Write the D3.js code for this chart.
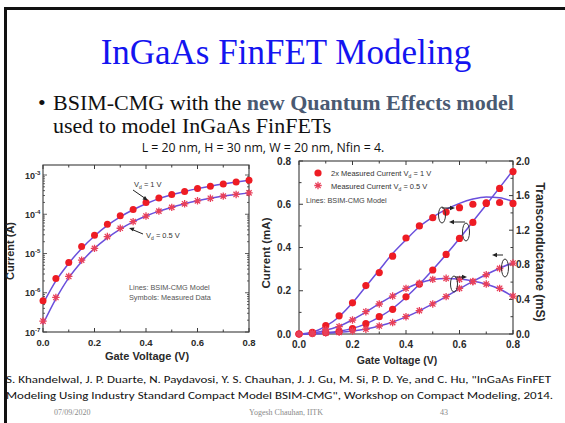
<!DOCTYPE html>
<html><head><meta charset="utf-8">
<script src="https://cdn.jsdelivr.net/npm/d3@7"></script>
<style>body{margin:0;background:#fff}svg{display:block}</style>
</head><body>
<script>
// Gate voltage sweep (V)
const gateV = [0.00,0.05,0.10,0.15,0.20,0.25,0.30,0.35,0.40,0.45,0.50,0.55,0.60,0.65,0.70,0.75,0.80];

// Id-Vg on log scale (A)
const logMeas1V  = [6.3e-7,2.3e-6,5.9e-6,1.5e-5,2.9e-5,5.6e-5,9.2e-5,1.33e-4,2.0e-4,2.6e-4,3.2e-4,3.8e-4,4.5e-4,5.2e-4,5.9e-4,6.6e-4,7.4e-4];
const logMeas05V = [1.9e-7,7.6e-7,2.6e-6,6.8e-6,1.35e-5,2.7e-5,4.4e-5,6.5e-5,9.0e-5,1.2e-4,1.5e-4,1.85e-4,2.2e-4,2.55e-4,2.9e-4,3.2e-4,3.5e-4];
const logModel1V  = [5.2e-7,2.0e-6,5.6e-6,1.35e-5,2.8e-5,5.2e-5,8.6e-5,1.3e-4,1.85e-4,2.5e-4,3.15e-4,3.8e-4,4.5e-4,5.2e-4,5.9e-4,6.6e-4,7.3e-4];
const logModel05V = [1.6e-7,7.0e-7,2.4e-6,6.2e-6,1.35e-5,2.5e-5,4.2e-5,6.4e-5,9.0e-5,1.2e-4,1.5e-4,1.85e-4,2.2e-4,2.55e-4,2.9e-4,3.2e-4,3.5e-4];
const logTicks = [1e-7,1e-6,1e-5,1e-4,1e-3];
const logTickExp = ["-7","-6","-5","-4","-3"];

// Linear Id-Vg (mA) and gm-Vg (mS)
const linCur1V   = [0.000,0.003,0.007,0.012,0.025,0.048,0.080,0.114,0.172,0.231,0.296,0.368,0.442,0.516,0.607,0.673,0.751];
const linCur05V  = [0.000,0.002,0.004,0.008,0.014,0.022,0.037,0.053,0.080,0.108,0.139,0.173,0.211,0.243,0.274,0.303,0.328];
const gm1V       = [0.00,0.02,0.096,0.21,0.36,0.56,0.71,0.90,1.11,1.25,1.345,1.41,1.46,1.50,1.51,1.52,1.51];
const gm05V      = [0.00,0.01,0.05,0.085,0.162,0.258,0.347,0.439,0.528,0.586,0.632,0.644,0.632,0.605,0.578,0.528,0.439];
const modelCur1V  = [0.000,0.002,0.006,0.013,0.026,0.047,0.078,0.118,0.170,0.230,0.297,0.368,0.442,0.520,0.598,0.677,0.757];
const modelCur05V = [0.000,0.001,0.004,0.008,0.014,0.023,0.037,0.055,0.079,0.107,0.139,0.173,0.209,0.243,0.275,0.304,0.330];
const modelGm1V   = [0.00,0.02,0.09,0.20,0.36,0.55,0.74,0.93,1.09,1.24,1.35,1.44,1.51,1.56,1.585,1.575,1.53];
const modelGm05V  = [0.00,0.01,0.045,0.09,0.165,0.255,0.35,0.44,0.525,0.59,0.63,0.643,0.635,0.612,0.575,0.52,0.43];

const xTicks = [0,0.2,0.4,0.6,0.8];
const curTicks = [0,0.2,0.4,0.6,0.8];
const gmTicks = [0,0.4,0.8,1.2,1.6,2.0];

const W = 565, H = 423;
const svg = d3.select("body").append("svg").attr("width", W).attr("height", H);
svg.append("rect").attr("width", W).attr("height", H).attr("fill", "#fff");

// slide frame
svg.append("rect").attr("x", 4).attr("y", 7).attr("width", W - 4).attr("height", 3).attr("fill", "#111");
svg.append("rect").attr("x", 4).attr("y", 7).attr("width", 3).attr("height", H - 7).attr("fill", "#111");

// title
svg.append("text").attr("x", 286).attr("y", 64).attr("text-anchor", "middle")
  .attr("font-family", "Liberation Serif, Times New Roman, serif").attr("font-size", 35)
  .attr("fill", "#1414f0").text("InGaAs FinFET Modeling");

// bullet
const serif = "Liberation Serif, Times New Roman, serif";
svg.append("text").attr("x", 38).attr("y", 110).attr("font-family", serif).attr("font-size", 22).attr("fill", "#111").text("•");
const b1 = svg.append("text").attr("x", 53).attr("y", 110).attr("font-family", serif).attr("font-size", 22).attr("fill", "#111");
b1.append("tspan").text("BSIM-CMG with the ");
b1.append("tspan").attr("font-weight", "bold").attr("fill", "#4a5a72").text("new Quantum Effects model");
svg.append("text").attr("x", 53).attr("y", 133).attr("font-family", serif).attr("font-size", 22).attr("fill", "#111").text("used to model InGaAs FinFETs");

const sans = "Liberation Sans, Arial, sans-serif";
svg.append("text").attr("x", 263).attr("y", 152).attr("text-anchor", "middle")
  .attr("font-family", "Open Sans, sans-serif").attr("font-size", 12.3).attr("fill", "#111")
  .text("L = 20 nm, H = 30 nm, W = 20 nm, Nfin = 4.");

const axisCol = "#3a3a3a", textCol = "#2a2a2a", lineCol = "#6a4fdc", dotCol = "#ee1c24", starCol = "#e8405a";

function star(g, x, y, s) {
  const a = s * 0.72;
  g.append("path").attr("transform", `translate(${x},${y})`)
    .attr("d", `M${-s},0H${s}M0,${-s}V${s}M${-a},${-a}L${a},${a}M${-a},${a}L${a},${-a}`)
    .attr("stroke", starCol).attr("stroke-width", 1.3).attr("fill", "none");
}

// ---------- left chart: log Id-Vg ----------
const L = { x0: 43, x1: 249, y0: 332, y1: 165 };
const lx = d3.scaleLinear([0, 0.8], [L.x0, L.x1]);
const ly = d3.scaleLog([1e-7, Math.pow(10, -2.745)], [L.y0, L.y1]);
const gl = svg.append("g");
gl.append("rect").attr("x", L.x0).attr("y", L.y1).attr("width", L.x1 - L.x0).attr("height", L.y0 - L.y1)
  .attr("fill", "none").attr("stroke", axisCol).attr("stroke-width", 1.1);
// x ticks (bottom, top)
d3.range(0, 0.8001, 0.1).forEach((v, i) => {
  const len = i % 2 === 0 ? 4 : 2.5;
  gl.append("line").attr("x1", lx(v)).attr("x2", lx(v)).attr("y1", L.y0).attr("y2", L.y0 - len).attr("stroke", axisCol);
  gl.append("line").attr("x1", lx(v)).attr("x2", lx(v)).attr("y1", L.y1).attr("y2", L.y1 + len).attr("stroke", axisCol);
});
// log ticks (left, right)
ly.ticks().forEach(t => {
  const major = Math.abs(Math.log10(t) - Math.round(Math.log10(t))) < 1e-6;
  const len = major ? 4 : 2;
  gl.append("line").attr("x1", L.x0).attr("x2", L.x0 + len).attr("y1", ly(t)).attr("y2", ly(t)).attr("stroke", axisCol).attr("stroke-width", 0.8);
  gl.append("line").attr("x1", L.x1).attr("x2", L.x1 - len).attr("y1", ly(t)).attr("y2", ly(t)).attr("stroke", axisCol).attr("stroke-width", 0.8);
});
xTicks.forEach(v => {
  gl.append("text").attr("x", lx(v)).attr("y", 346).attr("text-anchor", "middle").attr("font-family", sans)
    .attr("font-weight", "bold").attr("font-size", 9.5).attr("fill", textCol).text(v.toFixed(1));
});
logTicks.forEach((t, i) => {
  const tx = gl.append("text").attr("x", 25).attr("y", ly(t) + 3.5).attr("font-family", sans)
    .attr("font-weight", "bold").attr("font-size", 9).attr("fill", textCol);
  tx.append("tspan").text("10");
  tx.append("tspan").attr("dy", -4).attr("font-size", 6).text(logTickExp[i]);
});
gl.append("text").attr("x", 147).attr("y", 360).attr("text-anchor", "middle").attr("font-family", sans)
  .attr("font-weight", "bold").attr("font-size", 11).attr("fill", textCol).text("Gate Voltage (V)");
gl.append("text").attr("transform", "translate(14,251) rotate(-90)").attr("text-anchor", "middle").attr("font-family", sans)
  .attr("font-weight", "bold").attr("font-size", 11).attr("fill", textCol).text("Current (A)");

const lineL = (arr) => d3.line().x((d, i) => lx(gateV[i])).y(d => ly(d)).curve(d3.curveMonotoneX)(arr);
gl.append("path").attr("d", lineL(logModel1V)).attr("fill", "none").attr("stroke", lineCol).attr("stroke-width", 1.5);
gl.append("path").attr("d", lineL(logModel05V)).attr("fill", "none").attr("stroke", lineCol).attr("stroke-width", 1.5);
logMeas1V.forEach((d, i) => gl.append("circle").attr("cx", lx(gateV[i])).attr("cy", ly(d)).attr("r", 3.5).attr("fill", dotCol));
logMeas05V.forEach((d, i) => star(gl, lx(gateV[i]), ly(d), 3.7));

// annotations
const small = 7.5;
function vdLabel(g, x, y, pre, post) {
  const t = g.append("text").attr("x", x).attr("y", y).attr("font-family", sans).attr("font-size", small).attr("fill", "#333");
  t.append("tspan").text(pre + "V");
  t.append("tspan").attr("dy", 2).attr("font-size", 5).text("d");
  t.append("tspan").attr("dy", -2).text(post);
}
vdLabel(gl, 134, 187, "", " = 1 V");
gl.append("line").attr("x1", 133).attr("y1", 190).attr("x2", 146).attr("y2", 199).attr("stroke", "#222").attr("stroke-width", 1);
gl.append("path").attr("d", "M148,200.5 l-5.5,-1 l2.5,-3.5z").attr("fill", "#222");
vdLabel(gl, 146, 238, "", " = 0.5 V");
gl.append("line").attr("x1", 143).attr("y1", 234).attr("x2", 131).attr("y2", 229).attr("stroke", "#222").attr("stroke-width", 1);
gl.append("path").attr("d", "M129,228 l5.5,-0.5 l-1.6,3.8z").attr("fill", "#222");
gl.append("text").attr("x", 129).attr("y", 290).attr("font-family", sans).attr("font-size", 7.3).attr("fill", "#555").text("Lines: BSIM-CMG Model");
gl.append("text").attr("x", 129).attr("y", 300).attr("font-family", sans).attr("font-size", 7.3).attr("fill", "#555").text("Symbols: Measured Data");

// ---------- right chart: linear Id-Vg and gm ----------
const R = { x0: 299, x1: 513, y0: 334, y1: 161 };
const rx = d3.scaleLinear([0, 0.8], [R.x0, R.x1]);
const ryI = d3.scaleLinear([0, 0.8], [R.y0, R.y1]);
const ryG = d3.scaleLinear([0, 2.0], [R.y0, R.y1]);
const gr = svg.append("g");
gr.append("rect").attr("x", R.x0).attr("y", R.y1).attr("width", R.x1 - R.x0).attr("height", R.y0 - R.y1)
  .attr("fill", "none").attr("stroke", axisCol).attr("stroke-width", 1.1);
d3.range(0, 0.8001, 0.1).forEach((v, i) => {
  const len = i % 2 === 0 ? 4 : 2.5;
  gr.append("line").attr("x1", rx(v)).attr("x2", rx(v)).attr("y1", R.y0).attr("y2", R.y0 - len).attr("stroke", axisCol);
  gr.append("line").attr("x1", rx(v)).attr("x2", rx(v)).attr("y1", R.y1).attr("y2", R.y1 + len).attr("stroke", axisCol);
  gr.append("line").attr("x1", R.x0).attr("x2", R.x0 + len).attr("y1", ryI(v)).attr("y2", ryI(v)).attr("stroke", axisCol);
});
d3.range(0, 2.001, 0.2).forEach((v, i) => {
  const len = i % 2 === 0 ? 4 : 2.5;
  gr.append("line").attr("x1", R.x1).attr("x2", R.x1 - len).attr("y1", ryG(v)).attr("y2", ryG(v)).attr("stroke", axisCol);
});
xTicks.forEach(v => {
  gr.append("text").attr("x", rx(v)).attr("y", 348).attr("text-anchor", "middle").attr("font-family", sans)
    .attr("font-weight", "bold").attr("font-size", 10).attr("fill", textCol).text(v.toFixed(1));
});
curTicks.forEach(v => {
  gr.append("text").attr("x", 291).attr("y", ryI(v) + 3.5).attr("text-anchor", "end").attr("font-family", sans)
    .attr("font-weight", "bold").attr("font-size", 10).attr("fill", textCol).text(v.toFixed(1));
});
gmTicks.forEach(v => {
  gr.append("text").attr("x", 516).attr("y", ryG(v) + 3.5).attr("font-family", sans)
    .attr("font-weight", "bold").attr("font-size", 10).attr("fill", textCol).text(v.toFixed(1));
});
gr.append("text").attr("x", 397).attr("y", 364).attr("text-anchor", "middle").attr("font-family", sans)
  .attr("font-weight", "bold").attr("font-size", 10.5).attr("fill", textCol).text("Gate Voltage (V)");
gr.append("text").attr("transform", "translate(270,253) rotate(-90)").attr("text-anchor", "middle").attr("font-family", sans)
  .attr("font-weight", "bold").attr("font-size", 11.5).attr("fill", textCol).text("Current (mA)");
gr.append("text").attr("transform", "translate(536,252) rotate(90)").attr("text-anchor", "middle").attr("font-family", sans)
  .attr("font-weight", "bold").attr("font-size", 12.3).attr("fill", textCol).text("Transconductance (mS)");

const lineR = (arr, sy) => d3.line().x((d, i) => rx(gateV[i])).y(d => sy(d)).curve(d3.curveMonotoneX)(arr);
[[modelCur1V, ryI], [modelCur05V, ryI], [modelGm1V, ryG], [modelGm05V, ryG]].forEach(([arr, sy]) => {
  gr.append("path").attr("d", lineR(arr, sy)).attr("fill", "none").attr("stroke", lineCol).attr("stroke-width", 1.5);
});
linCur1V.forEach((d, i) => gr.append("circle").attr("cx", rx(gateV[i])).attr("cy", ryI(d)).attr("r", 3.6).attr("fill", dotCol));
gm1V.forEach((d, i) => gr.append("circle").attr("cx", rx(gateV[i])).attr("cy", ryG(d)).attr("r", 3.6).attr("fill", dotCol));
linCur05V.forEach((d, i) => star(gr, rx(gateV[i]), ryI(d), 3.7));
gm05V.forEach((d, i) => star(gr, rx(gateV[i]), ryG(d), 3.7));

// legend
gr.append("circle").attr("cx", 318).attr("cy", 173).attr("r", 3.6).attr("fill", dotCol);
vdLabel(gr, 331, 176, "2x Measured Current ", " = 1 V");
star(gr, 318, 185.5, 3.7);
vdLabel(gr, 331, 188.5, "Measured Current ", " = 0.5 V");
gr.append("text").attr("x", 306).attr("y", 203).attr("font-family", sans).attr("font-size", 7.3).attr("fill", "#444").text("Lines: BSIM-CMG Model");

// ellipse + arrow markers pointing to the relevant axis
function callout(g, cx, cy, rxE, ryE, ax0, ay, ax1) {
  g.append("ellipse").attr("cx", cx).attr("cy", cy).attr("rx", rxE).attr("ry", ryE)
    .attr("fill", "none").attr("stroke", "#333").attr("stroke-width", 1);
  g.append("line").attr("x1", ax0).attr("y1", ay).attr("x2", ax1).attr("y2", ay).attr("stroke", "#222").attr("stroke-width", 1);
  const dir = ax1 > ax0 ? 1 : -1;
  g.append("path").attr("d", `M${ax1 + dir * 3},${ay} l${-dir * 5},-2.2 l0,4.4z`).attr("fill", "#222");
}
callout(gr, 442, 215, 3.5, 8, 442, 208, 452);
callout(gr, 466, 232, 3.5, 9, 465, 222, 452);
callout(gr, 454, 284, 3.5, 8, 455, 277, 464);
callout(gr, 505, 268, 3.5, 9, 503, 255, 495);

// citation
const cite = "Carlito, Open Sans, Liberation Sans, sans-serif";
svg.append("text").attr("x", 6).attr("y", 383).attr("font-family", cite).attr("font-size", 10.3).attr("fill", "#111")
  .attr("textLength", 545).attr("lengthAdjust", "spacingAndGlyphs")
  .text("S. Khandelwal, J. P. Duarte, N. Paydavosi, Y. S. Chauhan, J. J. Gu, M. Si, P. D. Ye, and C. Hu, \"InGaAs FinFET");
svg.append("text").attr("x", 6).attr("y", 399).attr("font-family", cite).attr("font-size", 10.3).attr("fill", "#111")
  .attr("textLength", 547).attr("lengthAdjust", "spacingAndGlyphs")
  .text("Modeling Using Industry Standard Compact Model BSIM-CMG\", Workshop on Compact Modeling, 2014.");

// footer
svg.append("text").attr("x", 54).attr("y", 415).attr("font-family", serif).attr("font-size", 8).attr("fill", "#8a8a8a").text("07/09/2020");
svg.append("text").attr("x", 286).attr("y", 415).attr("text-anchor", "middle").attr("font-family", serif).attr("font-size", 8).attr("fill", "#8a8a8a").text("Yogesh Chauhan, IITK");
svg.append("text").attr("x", 440).attr("y", 415).attr("font-family", serif).attr("font-size", 8).attr("fill", "#8a8a8a").text("43");
</script>
</body></html>
